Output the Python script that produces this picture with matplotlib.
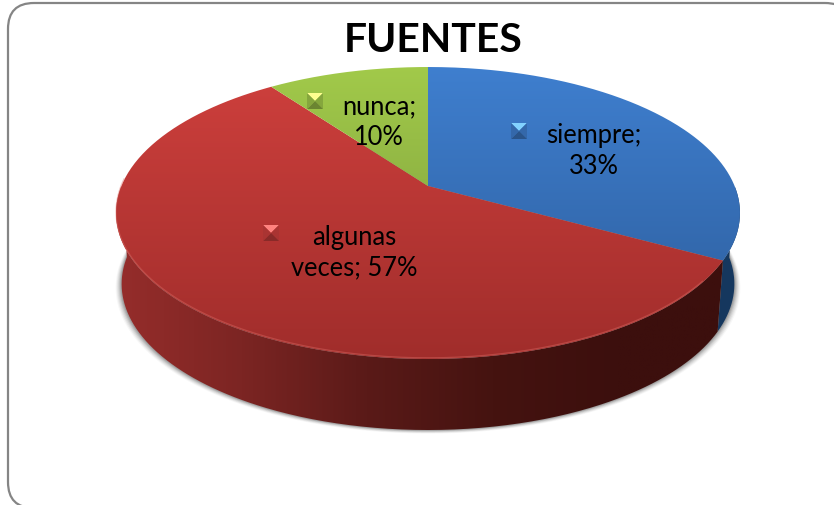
import numpy as np
import matplotlib
matplotlib.use("Agg")
from matplotlib import pyplot as plt
from matplotlib.patches import Polygon, FancyBboxPatch, PathPatch
from matplotlib.path import Path
from matplotlib.colors import LinearSegmentedColormap, to_rgb

title = "FUENTES"
labels = ["siempre", "algunas veces", "nunca"]
values = [33, 57, 10]
label_lines = ["siempre;\n33%", "algunas\nveces; 57%", "nunca;\n10%"]

top_light = ["#3f7fcf", "#cf403d", "#a2ca4a"]
top_dark = ["#2c5c9a", "#a02d2b", "#76963a"]
side_ramp = [["#102a4a", "#16385f"],
             ["#962d2b", "#7c2523", "#5a1a18", "#451310", "#3c0f0d", "#3c0f0d"],
             ["#5f7a2c", "#4a6022"]]


# perspective projection of the pie disc, gives pixel positions
def project(theta, cy=187.0, a=141.0, b=306.6, k=0.185, cx=428.0):
    u = np.sin(theta)
    v = np.cos(theta)
    w = 1 + k * v
    return cx + b * u / w, cy - a * v / w


def bottom_rim(theta):
    x, y = project(theta)
    # lower rim is a bit narrower
    return 428 + (x - 428) * 0.982, y + 71


fig = plt.figure(figsize=(8.34, 5.06), dpi=100)
ax = fig.add_axes([0, 0, 1, 1])
ax.set_xlim(0, 834)
ax.set_ylim(506, 0)
ax.axis("off")

# frame
ax.add_patch(FancyBboxPatch((8, 4), 843, 505, boxstyle="round,pad=0,rounding_size=26",
                            fc="white", ec="#858585", lw=1.6, zorder=1))

edges = np.cumsum([0] + values) / sum(values) * 2 * np.pi

# soft shadow under the pie
full = np.linspace(0, 2 * np.pi, 361)
sx, sy = bottom_rim(full)
for grow, alpha in zip([6, 5, 4, 3, 2, 1], [0.03, 0.05, 0.06, 0.08, 0.10, 0.12]):
    ax.add_patch(Polygon(np.c_[428 + (sx - 428) * (1 + grow / 306), sy + grow * 0.6], closed=True,
                         fc="black", ec="none", alpha=alpha, zorder=2))

# side wall, only the front part is visible
for i in range(len(values)):
    th = np.linspace(edges[i], edges[i + 1], 400)
    th = th[np.cos(th) < 0.0]
    if len(th) < 2:
        continue
    x0, y0 = project(th)
    x1, y1 = bottom_rim(th[::-1])
    pts = np.c_[np.r_[x0, x1, x0[0]], np.r_[y0, y1, y0[0]]]
    cmap = LinearSegmentedColormap.from_list("w", side_ramp[i])
    im = ax.imshow(np.linspace(0, 1, 256).reshape(1, -1), cmap=cmap, aspect="auto", zorder=3,
                   extent=(115, 745, 440, 180))
    im.set_clip_path(PathPatch(Path(pts), transform=ax.transData))

# top of the pie, gradient clipped to each slice
for i in range(len(values)):
    th = np.linspace(edges[i], edges[i + 1], 200)
    x, y = project(th)
    pts = np.c_[np.r_[428, x, 428], np.r_[187, y, 187]]
    cmap = LinearSegmentedColormap.from_list("s", [top_light[i], top_dark[i]])
    im = ax.imshow(np.linspace(0, 1, 256).reshape(-1, 1), cmap=cmap, extent=(110, 750, 362, 66),
                   aspect="auto", zorder=4)
    im.set_clip_path(PathPatch(Path(pts), transform=ax.transData))

# light bevel along the front rim of the red slice
th = np.linspace(edges[1] + 0.15, edges[2] - 0.9, 200)
rx, ry = project(th)
ax.plot(rx, ry - 1.2, color="#e0706a", lw=0.9, alpha=0.4, zorder=5)

ax.set_xlim(0, 834)
ax.set_ylim(506, 0)


# small bevelled legend key
def key(cx, cy, base, s=8):
    c = np.array(to_rgb(base))
    cols = [np.clip(c * 1.25 + 0.2, 0, 1), c * 0.82, c * 0.66, c * 0.82]
    o = [(-s, -s), (s, -s), (s, s), (-s, s)]
    for n in range(4):
        p0 = o[n]
        p1 = o[(n + 1) % 4]
        ax.add_patch(Polygon([(cx + p0[0], cy + p0[1]), (cx + p1[0], cy + p1[1]), (cx, cy)],
                             closed=True, fc=cols[n], ec="none", zorder=6))


key(519, 132, "#3f7fcf")
key(271, 234, "#cf403d")
key(315, 102, "#a2ca4a")

ax.text(594, 151, label_lines[0], ha="center", va="center", family="Lato", fontsize=18.4,
        color="black", linespacing=1.26, zorder=8)
ax.text(354, 253, label_lines[1], ha="center", va="center", family="Lato", fontsize=18.4,
        color="black", linespacing=1.26, zorder=8)
ax.text(379, 122, label_lines[2], ha="center", va="center", family="Lato", fontsize=18.4,
        color="black", linespacing=1.26, zorder=8)
ax.text(433, 40, title, ha="center", va="center", family="Lato", fontweight="bold", fontsize=29.4,
        color="black", zorder=8)

fig.savefig("out.png", dpi=100)
